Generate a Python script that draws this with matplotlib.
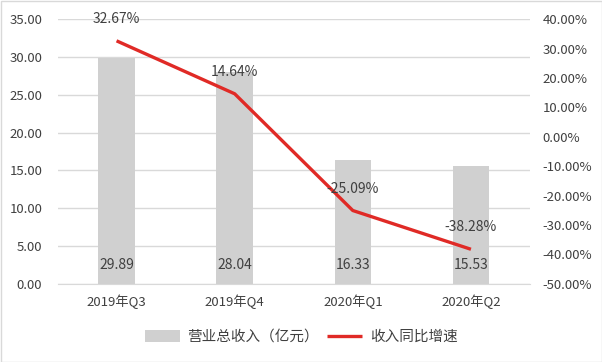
import matplotlib
matplotlib.use("Agg")
import matplotlib.pyplot as plt
from matplotlib.patches import Rectangle
from matplotlib.ticker import FuncFormatter, MultipleLocator

plt.rcParams['font.family'] = ['Noto Sans CJK SC', 'DejaVu Sans']

categories = ["2019年Q3", "2019年Q4", "2020年Q1", "2020年Q2"]
revenue = [29.89, 28.04, 16.33, 15.53]
growth = [32.67, 14.64, -25.09, -38.28]
bar_label = "营业总收入（亿元）"
line_label = "收入同比增速"

txt = "#404040"
fig = plt.figure(figsize=(6.02, 3.62), dpi=100)
ax = fig.add_axes([57.5/602, 1-283.7/362, (530-57.5)/602, (283.7-19.3)/362])
ax2 = ax.twinx()

x = list(range(len(categories)))
bars = ax.bar(x, revenue, width=0.31, color="#D0D0D0", zorder=2, label=bar_label)
ax.set_xlim(-0.5, len(categories)-0.5)
ax.set_ylim(0, 35)
ax.yaxis.set_major_locator(MultipleLocator(5))
ax.yaxis.set_major_formatter(FuncFormatter(lambda v, p: f"{v:.2f}"))
ax.grid(axis='y', color="#D9D9D9", linewidth=1, zorder=0)
ax.set_axisbelow(True)
ax.set_xticks(x)
ax.set_xticklabels(categories)
for s in ["top", "right", "left"]:
    ax.spines[s].set_visible(False)
ax.spines["bottom"].set_color("#D9D9D9")
ax.tick_params(axis='both', length=0, colors=txt, labelsize=9.5)
ax.tick_params(axis='y', pad=11)
ax.tick_params(axis='x', pad=8)

for xi, v in zip(x, revenue):
    ax.annotate(f"{v:.2f}", xy=(xi, 0), xytext=(0, 19), textcoords='offset pixels',
                ha='center', va='center', fontsize=10, color=txt, zorder=5)

line, = ax2.plot(x, growth, color="#E02A26", linewidth=2.4, zorder=4, label=line_label,
                 solid_capstyle='butt')
ax2.set_ylim(-50, 40)
ax2.yaxis.set_major_locator(MultipleLocator(10))
ax2.yaxis.set_major_formatter(FuncFormatter(lambda v, p: f"{v:.2f}%"))
for s in ["top", "right", "left", "bottom"]:
    ax2.spines[s].set_visible(False)
ax2.tick_params(axis='y', length=0, colors=txt, labelsize=9.5, pad=9)

for xi, v in zip(x, growth):
    ax2.annotate(f"{v:.2f}%", xy=(xi, v), xytext=(0, 22), textcoords='offset pixels',
                 ha='center', va='center', fontsize=10, color=txt, zorder=6)

fig.legend(handles=[bars, line], labels=[bar_label, line_label], loc='center',
           bbox_to_anchor=(0.5, 1-337/362), ncol=2, frameon=False, fontsize=10.5,
           labelcolor=txt, handlelength=2.4, handleheight=0.8, columnspacing=0.6,
           handletextpad=0.5)

fig.patches.append(Rectangle((0.5/602, 0.5/362), 1-1/602, 1-1/362, transform=fig.transFigure,
                             fill=False, edgecolor="#D9D9D9", linewidth=1))
fig.savefig("out.png", dpi=100, facecolor="white")
